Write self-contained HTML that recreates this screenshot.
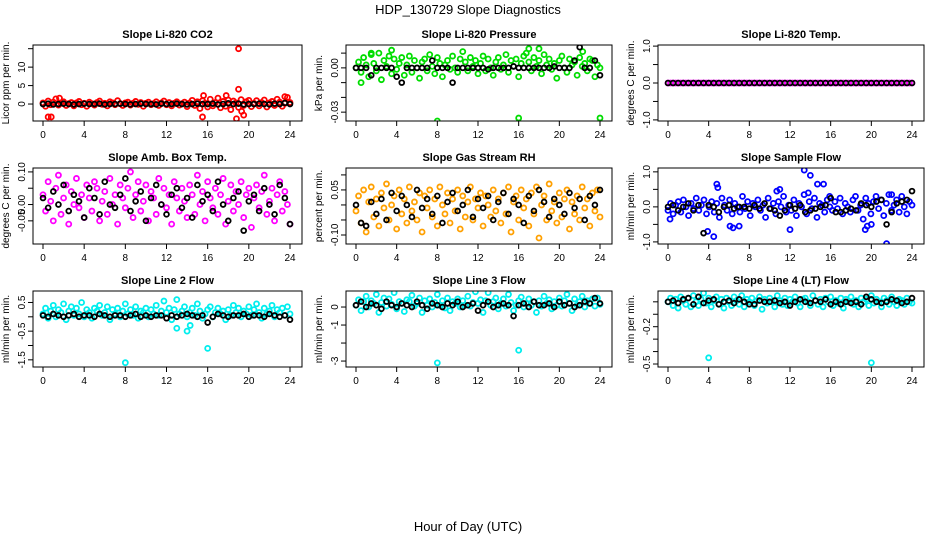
<!DOCTYPE html>
<html><head><meta charset="utf-8">
<style>
html,body{margin:0;padding:0;background:#fff;}
svg{display:block;font-family:"Liberation Sans",Arial,sans-serif;}
</style></head>
<body>
<svg id="chart" width="936" height="540" viewBox="0 0 936 540">
<text x="468" y="14" text-anchor="middle" font-size="13">HDP_130729  Slope Diagnostics</text>
<text x="468" y="531" text-anchor="middle" font-size="13">Hour of Day (UTC)</text>
</svg>
<script>
// ---- data ----
const xTicks = [0,4,8,12,16,20,24];
const titles = ["Slope Li-820 CO2","Slope Li-820 Pressure","Slope Li-820 Temp.","Slope Amb. Box Temp.","Slope Gas Stream RH","Slope Sample Flow","Slope Line 2 Flow","Slope Line 3 Flow","Slope Line 4 (LT) Flow"];
const yLabels = ["Licor ppm per min.","kPa per min.","degrees C per min.","degrees C per min.","percent per min.","ml/min per min.","ml/min per min.","ml/min per min.","ml/min per min."];
const colors = ["#ff0000","#00dd00","#ff00ff","#ff00ff","#ffa000","#0000ff","#00eeee","#00eeee","#00eeee"];
const yRanges = [[-4.6,16],[-0.036,0.0155],[-1.03,1.03],[-0.121,0.112],[-0.13,0.123],[-1.06,1.11],[-1.75,0.9],[-3.33,0.89],[-0.524,0.087]];
const yTicks = [[0,5,10,15],[-0.03,-0.02,-0.01,0,0.01],[-1,-0.5,0,0.5,1],[-0.05,0,0.05,0.1],[-0.1,-0.05,0,0.05,0.1],[-1,-0.5,0,0.5,1],[-1.5,-1,-0.5,0,0.5],[-3,-2,-1,0],[-0.5,-0.4,-0.3,-0.2,-0.1,0]];
const yTickLabels = [["0","5","10",""],["-0.03","","","0.00",""],["-1.0","","0.0","","1.0"],["-0.05","0.00","","0.10"],["-0.10","","","0.05",""],["-1.0","","0.0","","1.0"],["-1.5","","-0.5","","0.5"],["-3","","-1","0"],["-0.5","","","-0.2","",""]];

const p1Main=[0.3,-0.6,0.8,-0.2,0.5,1.4,-0.3,0.2,0.6,-0.4,0.1,0.4,-0.5,0.3,0.7,-0.2,0.2,-0.6,0.5,0.1,-0.3,0.4,0.8,-0.1,0.2,-0.5,0.6,0.3,-0.2,0.9,0.1,-0.4,0.3,0.5,-0.3,0.2,0.7,-0.1,0.4,-0.6,0.2,0.5,-0.2,0.1,0.6,-0.4,0.3,0.8,-0.2,0.4,-0.5,0.2,0.6,-0.3,0.1,0.5,-0.7,0.3,1.0,-0.4,0.6,-1.2,0.9,0.2,-0.8,1.3,-0.5,0.4,1.6,-1.0,0.7,-0.6,1.1,-1.5,0.8,0.3,-0.9,1.2,-0.4,0.6,1.0,-0.7,0.2,0.9,-0.5,0.4,1.1,-0.8,0.3,0.7,-0.4,1.3,0.5,-0.6,0.2,1.8,0.4];
const p2Main=[0.000,0.004,-0.003,0.007,0.002,-0.006,0.009,0.003,-0.002,0.010,-0.008,0.005,0.001,0.008,-0.004,0.006,-0.001,0.003,0.007,-0.005,0.002,0.008,-0.003,0.005,0.000,-0.007,0.004,0.006,-0.002,0.009,0.001,-0.004,0.007,0.003,-0.006,0.002,0.005,-0.001,0.008,0.000,-0.003,0.006,0.011,0.004,-0.002,0.007,0.001,0.005,-0.004,0.003,0.008,-0.002,0.006,0.000,-0.005,0.004,0.007,-0.001,0.002,0.009,-0.003,0.005,0.001,0.006,-0.006,0.003,0.008,0.010,0.004,-0.002,0.007,0.001,0.005,-0.004,0.009,0.002,0.006,-0.001,0.003,-0.007,0.005,0.008,0.000,-0.003,0.006,0.002,0.004,-0.005,0.007,0.001,0.003,-0.002,0.006,0.005,-0.006,0.002,0.000];
const p3Main=[0,0,0,0,0,0,0,0,0,0,0,0,0,0,0,0,0,0,0,0,0,0,0,0,0,0,0,0,0,0,0,0,0,0,0,0,0,0,0,0,0,0,0,0,0,0,0,0,0,0,0,0,0,0,0,0,0,0,0,0,0,0,0,0,0,0,0,0,0,0,0,0,0,0,0,0,0,0,0,0,0,0,0,0,0,0,0,0,0,0,0,0,0,0,0,0,0];
const p4Main=[0.03,-0.02,0.07,0.01,-0.05,0.05,0.09,-0.03,0.02,0.06,-0.06,0.04,0.00,0.08,-0.01,0.03,-0.04,0.06,0.02,-0.02,0.07,0.05,-0.05,0.01,0.04,-0.03,0.08,0.00,0.03,-0.06,0.06,0.02,-0.01,0.05,0.10,-0.04,0.03,0.07,-0.02,0.01,0.06,-0.05,0.04,0.02,-0.03,0.08,0.00,0.05,-0.01,0.03,-0.06,0.07,0.02,-0.02,0.05,0.01,-0.04,0.06,0.03,-0.03,0.09,0.00,0.04,-0.05,0.07,0.02,-0.01,0.05,-0.03,0.03,0.08,-0.06,0.01,0.06,-0.02,0.04,0.00,0.07,-0.04,0.03,0.05,-0.07,0.02,0.06,-0.01,0.04,0.09,-0.03,0.01,0.05,-0.05,0.03,0.07,-0.02,0.04,0.00,-0.06];
const p5Main=[-0.02,0.03,-0.06,0.05,-0.09,0.01,0.06,-0.04,0.02,-0.07,0.04,-0.01,0.07,-0.05,0.00,0.03,-0.08,0.05,-0.03,0.02,-0.06,0.06,-0.02,0.01,-0.05,0.04,-0.09,0.03,-0.01,0.05,-0.04,0.02,-0.07,0.06,0.00,-0.03,0.04,-0.06,0.02,-0.02,0.05,-0.08,0.03,-0.04,0.01,0.06,-0.05,0.02,-0.01,0.04,-0.07,0.03,0.00,-0.04,0.05,-0.02,0.02,-0.06,0.04,-0.03,0.06,-0.09,0.01,0.03,-0.05,0.05,-0.01,0.02,-0.07,0.04,-0.03,0.06,-0.11,0.00,0.03,-0.05,0.07,-0.02,0.01,-0.06,0.04,-0.04,0.02,0.05,-0.08,0.01,-0.03,0.03,-0.05,0.06,-0.01,0.02,-0.07,0.04,-0.02,0.05,-0.04];
const p6Main=[-0.1,0.1,-0.2,0.05,0.15,-0.15,0.2,0.0,-0.25,0.1,-0.05,0.25,-0.1,0.05,0.2,-0.2,0.0,0.15,-0.15,0.1,-0.3,0.25,0.05,-0.1,0.2,-0.2,0.1,0.0,-0.15,0.3,-0.05,0.15,-0.25,0.1,0.0,0.2,-0.1,0.05,-0.3,0.25,-0.05,0.1,-0.2,0.15,0.0,0.3,-0.15,0.05,-0.1,0.2,-0.25,0.1,0.0,0.35,-0.2,0.15,-0.05,0.25,-0.3,0.1,0.05,-0.15,0.2,0.0,-0.1,0.15,-0.05,0.25,-0.2,0.1,0.0,-0.15,0.2,0.3,-0.1,0.05,-0.35,0.25,0.1,-0.2,0.15,0.3,-0.05,0.2,-0.25,0.1,0.35,-0.1,0.05,0.2,-0.15,0.3,0.0,-0.2,0.15,0.05];
const p7Main=[0.1,0.3,-0.05,0.2,0.4,0.0,0.25,0.15,0.45,-0.1,0.2,0.35,0.05,0.3,0.1,0.5,0.0,0.25,0.15,-0.05,0.3,0.2,0.4,0.05,0.15,0.35,-0.1,0.25,0.1,0.3,0.0,0.2,0.45,0.1,0.25,0.05,0.35,-0.05,0.2,0.15,0.3,0.0,0.25,0.1,0.4,0.05,0.2,0.55,0.15,0.3,-0.1,0.25,0.6,0.1,0.2,0.35,0.0,0.15,0.3,0.05,0.45,0.2,-0.05,0.1,0.25,0.35,0.0,0.15,0.3,0.1,0.2,-0.1,0.25,0.05,0.4,0.15,0.3,0.0,0.2,0.1,0.35,0.05,0.25,0.45,0.15,-0.05,0.3,0.1,0.2,0.4,0.0,0.25,0.15,0.3,0.05,0.35,0.1];
const p8Main=[0.1,0.4,-0.2,0.3,0.6,0.0,0.35,0.2,0.7,-0.3,0.25,0.5,0.05,0.45,0.15,0.8,-0.1,0.3,0.2,-0.25,0.4,0.3,0.65,0.05,0.2,0.5,-0.3,0.35,0.1,0.45,0.0,0.25,0.7,0.1,0.35,-0.05,0.5,-0.2,0.3,0.2,0.45,0.0,0.35,0.1,0.6,0.05,0.25,0.85,0.2,0.4,-0.3,0.35,0.8,0.1,0.3,0.5,-0.1,0.2,0.45,0.05,0.7,0.25,-0.2,0.1,0.35,0.55,0.0,0.2,0.45,0.1,0.3,-0.3,0.35,0.05,0.6,0.2,0.4,-0.1,0.3,0.1,0.5,0.05,0.35,0.7,0.2,-0.2,0.45,0.1,0.3,0.6,0.0,0.35,0.2,0.45,0.05,0.5,0.15];
const p9Main=[0.0,0.03,-0.03,0.02,-0.05,0.04,0.01,-0.02,0.03,-0.04,0.05,0.0,-0.03,0.02,0.07,-0.01,0.03,-0.04,0.01,0.04,-0.02,0.02,-0.05,0.03,0.0,-0.03,0.04,0.01,-0.02,0.05,-0.04,0.02,0.0,0.03,-0.03,0.01,0.04,-0.06,0.02,-0.01,0.03,0.0,-0.04,0.05,0.01,-0.02,0.03,-0.03,0.02,0.0,0.04,-0.01,-0.04,0.02,0.03,0.0,-0.03,0.05,0.01,-0.02,0.02,-0.04,0.03,0.0,0.04,-0.03,0.01,-0.01,0.03,-0.05,0.02,0.0,0.04,-0.02,0.01,-0.04,0.03,0.0,0.02,-0.03,0.05,-0.01,0.02,0.0,-0.04,0.03,0.01,-0.02,0.04,0.0,-0.03,0.02,0.01,-0.02,0.03,0.0,-0.01];
const mainSeries=[p1Main,p2Main,p3Main,p4Main,p5Main,p6Main,p7Main,p8Main,p9Main];

const p1ExtraX=[0.5,0.8,1.6,15.5,15.6,17.8,18.8,19,19,19.5,19.3,23.5];
const p1ExtraY=[-3.5,-3.5,1.6,-3.5,2.3,2.3,-4,15,4,-3,-2,2];
const p2ExtraX=[8,16,24,0.5,17,18,3.5,1.5,22.3];
const p2ExtraY=[-0.036,-0.034,-0.034,-0.010,0.013,0.013,0.012,0.010,0.011];
const p6ExtraX=[0.2,3.9,4.5,4.8,4.9,6.1,6.4,7.0,10.7,11,12,13.4,14,14.7,15.3,19.4,19.6,20,21.5,22,13.8,15.9];
const p6ExtraY=[-0.35,-0.7,-0.85,0.65,0.55,-0.55,-0.6,-0.55,0.45,0.5,-0.65,1.05,0.9,0.65,0.65,-0.65,-0.55,-0.5,-1.05,0.35,0.4,0.3];
const p7ExtraX=[8,13,14,16,14.3];
const p7ExtraY=[-1.6,-0.4,-0.5,-1.1,-0.3];
const p8ExtraX=[8,16];
const p8ExtraY=[-3.1,-2.4];
const p9ExtraX=[4,12,20];
const p9ExtraY=[-0.45,-0.57,-0.49];
const extraX=[p1ExtraX,p2ExtraX,[],[],[],p6ExtraX,p7ExtraX,p8ExtraX,p9ExtraX];
const extraY=[p1ExtraY,p2ExtraY,[],[],[],p6ExtraY,p7ExtraY,p8ExtraY,p9ExtraY];

const p1Black=[0,0.1,-0.1,0,0.1,0,-0.1,0,0.1,0,0,0.1,-0.1,0,0,0.1,0,-0.1,0,0.1,0,0,-0.1,0.1,0,0,0.1,0,-0.1,0,0.1,0,0,0.1,-0.1,0,0.2,0,0.1,-0.1,0,0,0.1,0,-0.1,0.1,0,0.3,0];
const p2Black=[0,0,0,-0.005,0,0,0,0,-0.006,-0.010,0,0,0,0,0,0.005,0,0,0,-0.010,0,0,0,0,0,0,-0.001,0,0,0,0,0.001,0,0,0,0,0,0,0,0.001,0,0,0,0.005,0.014,0,0,0.005,-0.005];
const p3Black=[0,0,0,0,0,0,0,0,0,0,0,0,0,0,0,0,0,0,0,0,0,0,0,0,0,0,0,0,0,0,0,0,0,0,0,0,0,0,0,0,0,0,0,0,0,0,0,0,0];
const p4Black=[0.02,-0.01,0.04,0.00,0.06,-0.02,0.03,0.01,-0.04,0.05,0.02,-0.03,0.07,0.00,-0.01,0.03,0.08,-0.02,0.01,0.04,-0.05,0.02,0.06,0.00,-0.03,0.03,0.05,-0.01,0.02,-0.04,0.06,0.01,0.03,-0.02,0.07,0.00,-0.05,0.02,0.04,-0.08,0.01,0.03,-0.02,0.05,0.00,-0.03,0.06,0.02,-0.06];
const p5Black=[0.0,-0.06,-0.07,0.01,-0.03,0.02,-0.05,0.04,-0.02,0.03,0.00,-0.04,0.05,-0.01,0.02,-0.03,0.03,-0.06,0.01,0.04,-0.02,0.00,0.05,-0.04,0.02,-0.01,0.03,-0.05,0.01,0.04,-0.03,0.02,0.00,-0.06,0.03,-0.02,0.05,0.01,-0.04,0.02,0.00,-0.03,0.04,-0.01,0.02,-0.05,0.03,0.00,0.05];
const p6Black=[0.0,0.05,-0.1,0.0,0.1,-0.1,0.05,-0.75,0.05,0.0,-0.15,0.0,0.05,-0.05,0.0,0.0,-0.05,0.05,-0.05,0.1,-0.05,-0.1,-0.25,-0.1,0.05,-0.05,0.05,-0.15,-0.1,-0.05,0.0,0.05,0.25,-0.15,-0.15,-0.1,-0.05,-0.1,0.1,0.05,0.0,0.15,0.2,-0.5,-0.15,0.1,0.15,0.2,0.45];
const p7Black=[0.05,0.0,0.1,0.05,0.0,0.05,0.1,0.0,0.05,0.05,0.0,0.1,0.05,0.0,0.05,0.05,0.0,0.05,0.1,0.0,0.05,0.0,0.05,0.05,-0.05,0.05,0.0,0.05,0.1,0.05,0.0,0.05,-0.2,0.0,0.1,0.05,0.0,0.05,0.05,0.1,0.0,0.05,0.05,0.0,0.1,0.05,0.0,0.05,-0.1];
const p8Black=[0.1,0.3,0.0,0.2,0.1,-0.1,0.3,0.1,0.0,0.2,0.1,0.0,0.3,0.1,-0.1,0.2,0.1,0.0,0.2,0.1,0.3,0.0,0.1,0.2,-0.2,0.1,0.3,0.0,0.1,0.2,0.1,-0.5,0.1,0.2,0.0,0.3,0.1,0.1,0.2,0.0,0.3,0.1,0.2,0.0,0.1,0.3,0.2,0.5,0.2];
const p9Black=[0.0,0.01,-0.01,0.02,0.03,-0.02,0.04,-0.01,0.01,0.02,-0.02,0.0,0.01,-0.01,0.02,0.0,-0.02,-0.02,0.01,0.0,0.0,0.01,-0.01,0.0,-0.03,0.0,0.02,0.0,-0.01,0.01,0.0,0.02,-0.02,0.0,-0.02,0.0,-0.01,0.0,-0.02,0.04,0.02,0.0,-0.01,0.0,0.02,0.01,-0.01,0.0,0.03];
const blackSeries=[p1Black,p2Black,p3Black,p4Black,p5Black,p6Black,p7Black,p8Black,p9Black];

// ---- layout ----
const colsX=[[33,302],[346,612],[658,924]];
const rowsY=[[45,121],[168,244],[291,367]];
const NS="http://www.w3.org/2000/svg";
const svg=document.getElementById('chart');
function mk(tag,attrs,parent){const e=document.createElementNS(NS,tag);for(const k in attrs)e.setAttribute(k,attrs[k]);(parent||svg).appendChild(e);return e;}

for(let p=0;p<9;p++){
  const [L,R]=colsX[p%3],[T,B]=rowsY[Math.floor(p/3)];
  const x0=L+10,x1=R-12;
  const xs=v=>x0+(v/24)*(x1-x0);
  const [ymin,ymax]=yRanges[p];
  const ys=v=>B-(v-ymin)/(ymax-ymin)*(B-T);
  const g=mk('g',{});
  
  
  const t=mk('text',{x:(L+R)/2,y:T-7,'text-anchor':'middle','font-size':11,'font-weight':'bold'},g);
  t.textContent=titles[p];
  
  
  const cx=L-24,cy=(T+B)/2;
  const yl=mk('text',{x:cx,y:cy,'text-anchor':'middle','font-size':10,transform:`rotate(-90 ${cx} ${cy})`},g);
  yl.textContent=yLabels[p];
  
  
  const cid='clip'+p;
  const cp=mk('clipPath',{id:cid},g);mk('rect',{x:L,y:T,width:R-L,height:B-T},cp);
  const pts=mk('g',{'clip-path':`url(#${cid})`,fill:'none','stroke-width':1.8},g);
  
  
  const m=mainSeries[p];
  m.forEach((v,i)=>{const c=mk('circle',{cx:xs(i*24/(m.length-1)),cy:ys(v),r:2.5,stroke:colors[p]},pts);
    
    });
  extraX[p].forEach((xv,i)=>{const c=mk('circle',{cx:xs(xv),cy:ys(extraY[p][i]),r:2.5,stroke:colors[p]},pts);
    
    });
  const b=blackSeries[p];
  b.forEach((v,i)=>{const c=mk('circle',{cx:xs(i*24/(b.length-1)),cy:ys(v),r:2.4,stroke:'#000'},pts);
    
    });
  mk('rect',{x:L,y:T,width:R-L,height:B-T,fill:'none',stroke:'#000','stroke-width':1},g);
  xTicks.forEach(v=>{mk('line',{x1:xs(v),x2:xs(v),y1:B,y2:B+5,stroke:'#000'},g);
    const tl=mk('text',{x:xs(v),y:B+17,'text-anchor':'middle','font-size':10},g);tl.textContent=v;
    
    });
  yTicks[p].forEach((v,i)=>{const yy=ys(v);mk('line',{x1:L-5,x2:L,y1:yy,y2:yy,stroke:'#000'},g);
    const lab=yTickLabels[p][i];
    if(lab){const tx=L-8;const tl=mk('text',{x:tx,y:yy,'text-anchor':'middle','font-size':10,transform:`rotate(-90 ${tx} ${yy})`},g);tl.textContent=lab;
      
      }});
}
</script>
</body></html>
